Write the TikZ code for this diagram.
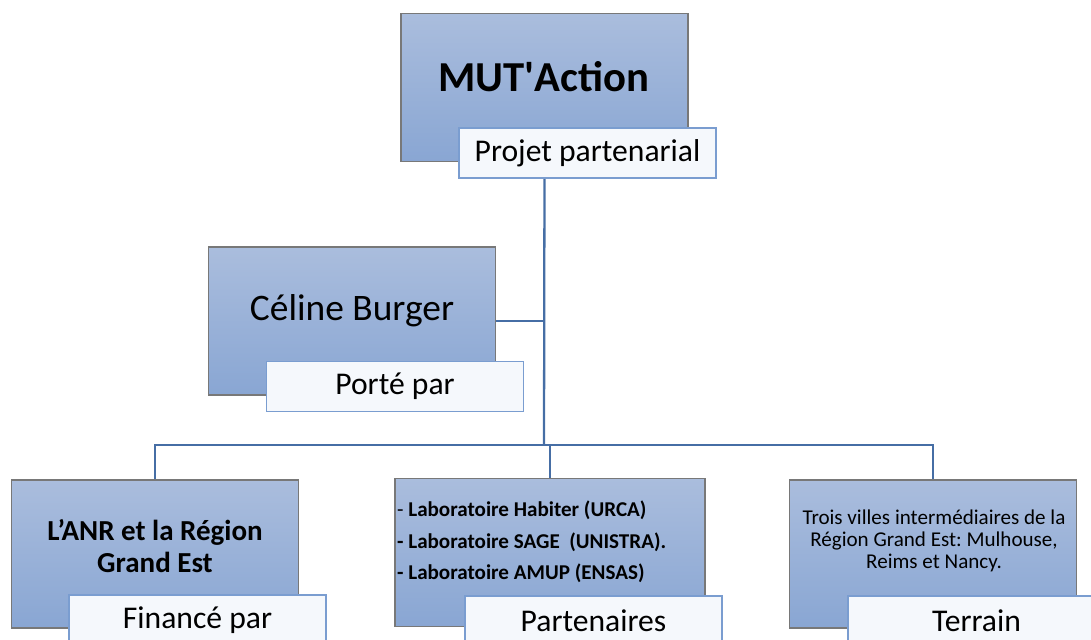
\documentclass[tikz,border=0pt]{standalone}
\usepackage{fontspec}
\setmainfont{Carlito}
\frenchspacing
\definecolor{boxtop}{RGB}{170,189,221}
\definecolor{boxbot}{RGB}{137,166,211}
\definecolor{boxline}{RGB}{120,120,120}
\definecolor{tagline}{RGB}{122,157,208}
\definecolor{tagfill}{RGB}{245,248,252}
\definecolor{linkcol}{RGB}{70,110,165}

\begin{document}
\begin{tikzpicture}
[x=0.02cm, y=-0.02cm,
every node/.style={inner sep=1pt, align=center},
unit/.style={draw=boxline, line width=0.8pt, top color=boxtop, bottom color=boxbot,
  minimum width=5.74cm, minimum height=2.96cm},
tag/.style={draw=tagline, line width=0.8pt, fill=tagfill, minimum width=5.14cm,
  minimum height=1cm, font=\fontsize{18}{21}\selectfont},
link/.style={draw=linkcol, line width=1.3pt}]

\useasboundingbox (0,0) rectangle (1091,639);
\clip (0,0) rectangle (1091,639);

% boxes
\node[unit] (mut) at (544.5,87.5) {};
\node[unit] (porteur) at (352,321) {};
\node[unit] (financeur) at (155,554) {};
\node[unit, minimum width=6.2cm] (partenaires) at (550,552.5) {};
\node[unit] (terrain) at (933,554) {};

% texts
\node[font=\fontsize{24.3}{28}\selectfont\bfseries] (mut-t) at (544,77) {MUT\textquotesingle Action};
\node[font=\fontsize{21.3}{25}\selectfont] (porteur-t) at (352,311) {Céline Burger};
\node[font=\fontsize{16.5}{18}\selectfont\bfseries] (financeur-t) at (155,546)
  {L’ANR et la Région\\Grand Est};
\node[font=\fontsize{12}{18}\selectfont, anchor=west, align=left] (partenaires-t) at (395,542)
  {- \textbf{Laboratoire Habiter (URCA)}\\
   \textbf{- Laboratoire SAGE\ \ (UNISTRA).}\\
   \textbf{- Laboratoire AMUP (ENSAS)}};
\node[font=\fontsize{12}{12.5}\selectfont] (terrain-t) at (934,541)
  {Trois villes intermédiaires de la\\Région Grand Est: Mulhouse,\\Reims et Nancy.};

% connectors
\coordinate (bar) at (544,445);
\draw[link] (mut.south) -- (bar);
\draw[link] (porteur.east) -- (porteur.east -| bar);
\draw[link] (financeur.north) |- (bar) -| (terrain.north);
\draw[link] (partenaires.north) -- (partenaires.north |- bar);

% tags
\node[tag] (mut-tag) at (587.5,153) {Projet partenarial};
\node[tag] (porteur-tag) at (395,386.5) {Porté par};
\node[tag] (financeur-tag) at (197.5,620) {Financé par};
\node[tag] (partenaires-tag) at (593.5,621) {Partenaires};
\node[tag] (terrain-tag) at (976.5,621) {Terrain};
\end{tikzpicture}
\end{document}
